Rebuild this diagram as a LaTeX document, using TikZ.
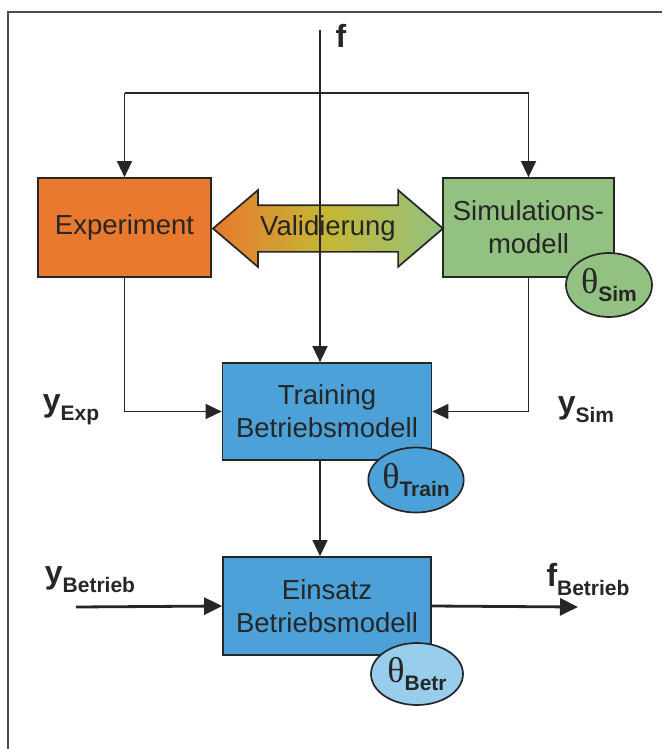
\documentclass[tikz,border=0pt]{standalone}
\usepackage{fontspec}
\setmainfont{Liberation Sans}
\newfontfamily\grkfont{Liberation Serif}
\usetikzlibrary{arrows.meta,shapes.geometric,shapes.arrows}
\definecolor{exporange}{RGB}{232,121,46}
\definecolor{simgreen}{RGB}{146,193,130}
\definecolor{trainblue}{RGB}{76,162,216}
\definecolor{betrblue}{RGB}{152,206,236}
\definecolor{valyellow}{RGB}{196,184,52}
\definecolor{inkgray}{RGB}{38,38,38}
\newcommand{\sublabel}[2]{{\fontsize{32}{32}\selectfont\bfseries #1}\raisebox{-9pt}{\fontsize{21}{21}\selectfont\bfseries #2}}
\newcommand{\thetasub}[1]{{\grkfont\fontsize{36}{36}\selectfont θ}\raisebox{-8pt}{\fontsize{21}{21}\selectfont\bfseries #1}}
\begin{document}
\begin{tikzpicture}[x=1pt,y=-1pt,
  box/.style={rectangle,draw=inkgray,line width=1.7pt,text=inkgray,align=center,
    inner sep=0pt,font=\fontsize{27.5}{33}\selectfont},
  param/.style={ellipse,draw=inkgray,line width=1.7pt,inner sep=0pt,text=inkgray},
  conn/.style={draw=inkgray,line width=1.5pt},
  arr/.style={conn,-{Triangle[length=16pt,width=15pt]}},
  thickarr/.style={draw=inkgray,line width=2.8pt,-{Triangle[length=18pt,width=17pt]}},
  lbl/.style={inner sep=0pt,text=inkgray}]
\useasboundingbox (0,0) rectangle (662,749);
% frame
\draw[draw=black!70,line width=1.4pt] (8,749) -- (8,12) -- (662,12);

% models
\node[box,fill=exporange,minimum width=173pt,minimum height=99pt] (exp) at (124.5,227.5) {Experiment};
\node[box,fill=simgreen,minimum width=171pt,minimum height=99pt] (sim) at (528.5,227.5) {Simulations-\\modell};
\node[box,fill=trainblue,minimum width=209pt,minimum height=97pt] (train) at (327,411.5) {Training\\Betriebsmodell};
\node[box,fill=trainblue,minimum width=208pt,minimum height=98pt] (einsatz) at (327,606) {Einsatz\\Betriebsmodell};

\node[double arrow,draw=inkgray,line width=1.7pt,text=inkgray,
  left color=exporange,right color=simgreen,middle color=valyellow,
  double arrow head extend=15pt,double arrow tip angle=81,
  minimum height=230pt,text height=20pt,text depth=6pt,inner xsep=0pt,inner ysep=9.5pt,
  font=\fontsize{27.5}{33}\selectfont] (valid) at (328,228.5) {Validierung};

% labels
\node[lbl] (flbl) at (341,36) {\fontsize{32}{32}\selectfont\bfseries f};
\node[lbl] (yexp) at (71,410) {\sublabel{y}{Exp}};
\node[lbl] (ysim) at (586,410) {\sublabel{y}{Sim}};
\node[lbl] (ybet) at (90,580) {\sublabel{y}{Betrieb}};
\node[lbl] (fbet) at (588,580) {\sublabel{f}{Betrieb}};

\coordinate (ftop) at (320,30);
\coordinate (fsplit) at (320,93);
\coordinate (yin) at (76,607);
\coordinate (fout) at (578,607);

% connectors
\draw[arr] (ftop) -- (ftop |- train.north);
\draw[conn] (exp.north |- fsplit) -- (sim.north |- fsplit);
\draw[arr] (exp.north |- fsplit) -- (exp.north);
\draw[arr] (sim.north |- fsplit) -- (sim.north);
\draw[arr] (exp.south) |- (train.west);
\draw[arr] (sim.south) |- (train.east);
\draw[arr] (ftop |- train.south) -- (ftop |- einsatz.north);
\draw[thickarr] (yin) -- (einsatz.west);
\draw[thickarr] (einsatz.east) -- (fout);

% parameters
\node[param,fill=simgreen,minimum width=86pt,minimum height=64pt] (thsim) at (609,285) {\thetasub{Sim}};
\node[param,fill=trainblue,minimum width=92pt,minimum height=65pt] (thtrain) at (416,480) {\thetasub{Train}};
\node[param,fill=betrblue,minimum width=92pt,minimum height=62pt] (thbetr) at (417,674) {\thetasub{Betr}};
\end{tikzpicture}
\end{document}
